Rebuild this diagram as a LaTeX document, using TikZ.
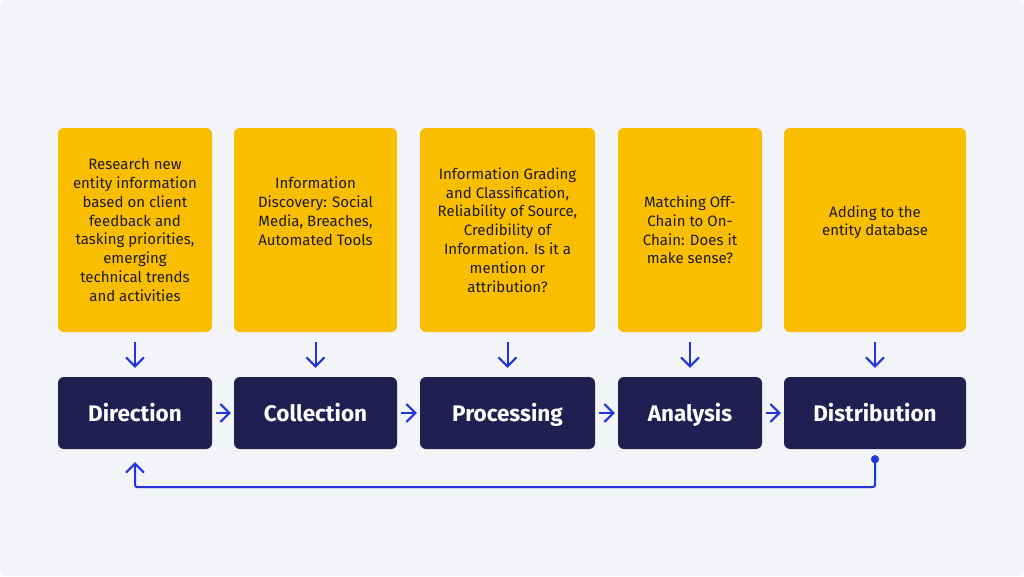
\documentclass[tikz,border=0pt]{standalone}
\usepackage{fontspec}
\setmainfont{Fira Sans}
\usetikzlibrary{arrows.meta}
\definecolor{paper}{HTML}{F3F4F8}
\definecolor{gold}{HTML}{F9BE00}
\definecolor{navy}{HTML}{211F52}
\definecolor{wire}{HTML}{2233E0}
\definecolor{ink}{HTML}{1E1B24}
\tikzset{
  task/.style={fill=gold, rounded corners=6pt, minimum height=204pt,
    inner sep=0pt, align=center, text=ink, font=\fontsize{15}{18.8}\selectfont},
  stage/.style={fill=navy, rounded corners=6pt, minimum height=72pt,
    inner sep=0pt, text height=16pt, text depth=0pt, text=white,
    font=\fontsize{22.5}{27}\selectfont\bfseries},
  flow/.style={wire, line width=2pt, -{Straight Barb[length=9pt,width=18pt,line width=2pt]}},
}
\begin{document}
\begin{tikzpicture}[x=1pt,y=-1pt]
\fill[white] (0,0) rectangle (1024,576);
\fill[paper, rounded corners=8pt] (0,0) rectangle (1024,576);

\node[task, minimum width=154pt] (t1) at (135,230) {Research new\\entity information\\based on client\\feedback and\\tasking priorities,\\emerging\\technical trends\\and activities};
\node[task, minimum width=163pt] (t2) at (315.5,230) {Information\\Discovery: Social\\Media, Breaches,\\Automated Tools\\ \mbox{}\\ \mbox{}};
\node[task, minimum width=175pt] (t3) at (507.5,230) {Information Grading\\and Classification,\\Reliability of Source,\\Credibility of\\Information. Is it a\\mention or\\attribution?};
\node[task, minimum width=144pt] (t4) at (690,230) {Matching Off-\\Chain to On-\\Chain: Does it\\make sense?};
\node[task, minimum width=182pt] (t5) at (875,230) {Adding to the\\entity database\\ \mbox{}};

\node[stage, minimum width=154pt] (s1) at (135,413) {Direction};
\node[stage, minimum width=163pt] (s2) at (315.5,413) {Collection};
\node[stage, minimum width=175pt] (s3) at (507.5,413) {Processing};
\node[stage, minimum width=144pt] (s4) at (690,413) {Analysis};
\node[stage, minimum width=182pt] (s5) at (875,413) {Distribution};

\foreach \i in {1,...,5}
  \draw[flow, shorten <=10pt, shorten >=9pt] (t\i) -- (s\i);
\foreach \i/\j in {1/2,2/3,3/4,4/5}
  \draw[flow, shorten <=4pt, shorten >=3pt] (s\i) -- (s\j);

% feedback loop
\coordinate (loop) at (875,487);
\draw[flow, {Circle[length=8pt]}-{Straight Barb[length=9pt,width=18pt,line width=2pt]},
  rounded corners=2pt, shorten <=6pt, shorten >=13pt]
  (s5.south) -- (s5.south |- loop) -| (s1.south);
\end{tikzpicture}
\end{document}
